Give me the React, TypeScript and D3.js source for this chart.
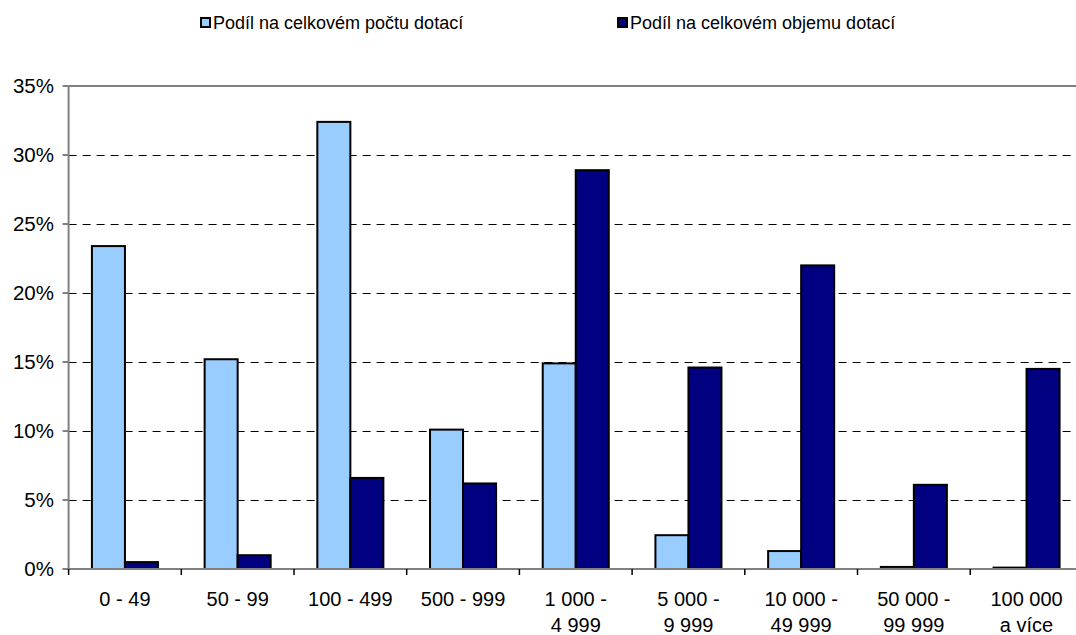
import React from "react";
import * as d3 from "d3";

const categories = ["0 - 49", "50 - 99", "100 - 499", "500 - 999", "1 000 -\n4 999", "5 000 -\n9 999", "10 000 -\n49 999", "50 000 -\n99 999", "100 000\na více"];
const countShare = [0.234, 0.152, 0.324, 0.101, 0.149, 0.0245, 0.013, 0.0015, 0.001];
const volumeShare = [0.005, 0.01, 0.066, 0.062, 0.289, 0.146, 0.22, 0.061, 0.145];
const seriesNames = ["Podíl na celkovém počtu dotací", "Podíl na celkovém objemu dotací"];
const seriesColors = ["#99CCFF", "#000080"];
const yTicks = [0, 0.05, 0.1, 0.15, 0.2, 0.25, 0.3, 0.35];

const W = 1076;
const H = 635;
const left = 68.6;
const right = left + 9 * 112.7;
const top = 86;
const bottom = 569;
const font = "'Liberation Sans', Arial, sans-serif";

export default function App() {
  const x = d3.scaleBand<string>().domain(categories).range([left, right]).paddingInner(0.414).paddingOuter(0.207);
  const xs = d3.scaleBand<number>().domain([0, 1]).range([0, x.bandwidth()]);
  const y = d3.scaleLinear().domain([0, 0.35]).range([bottom, top]);
  const step = x.step();
  const series = [countShare, volumeShare];

  return (
    <div style={{ position: "fixed", left: 0, top: 0 }}>
      <svg width={W} height={H} style={{ display: "block", background: "#fff" }} fontFamily={font}>
        {/* gridlines */}
        {yTicks.filter((t) => t > 0 && t < 0.35).map((t) => (
          <line key={t} x1={left} x2={right} y1={Math.round(y(t)) + 0.5} y2={Math.round(y(t)) + 0.5} stroke="#000" strokeWidth={1} strokeDasharray="8,6" />
        ))}
        {/* top border */}
        <line x1={left} x2={right} y1={y(0.35)} y2={y(0.35)} stroke="#808080" strokeWidth={2} />
        {/* bars */}
        {series.map((vals, si) =>
          vals.map((v, i) => {
            const bx = (x(categories[i]) as number) + (xs(si) as number);
            return (
              <rect key={si + "-" + i} x={bx} y={y(v)} width={xs.bandwidth()} height={bottom - y(v)} fill={seriesColors[si]} stroke="#000" strokeWidth={2} />
            );
          })
        )}
        {/* axes */}
        <line x1={left} x2={left} y1={top} y2={bottom} stroke="#808080" strokeWidth={2} />
        <line x1={left - 6} x2={right} y1={bottom} y2={bottom} stroke="#808080" strokeWidth={2} />
        {yTicks.map((t) => (
          <g key={"yt" + t}>
            <line x1={left - 6} x2={left} y1={y(t)} y2={y(t)} stroke="#808080" strokeWidth={2} />
            <text x={54} y={y(t)} dy="0.35em" textAnchor="end" fontSize={20.5} fill="#000">
              {d3.format(".0%")(t)}
            </text>
          </g>
        ))}
        {d3.range(categories.length + 1).map((i) => (
          <line key={"xt" + i} x1={left + i * step} x2={left + i * step} y1={bottom} y2={bottom + 6} stroke="#000" strokeWidth={1.5} />
        ))}
        {categories.map((c) => {
          const cx = (x(c) as number) + x.bandwidth() / 2;
          return (
            <text key={c} x={cx} y={606} textAnchor="middle" fontSize={20} fill="#000">
              {c.split("\n").map((ln, k) => (
                <tspan key={k} x={cx} dy={k === 0 ? 0 : 26}>{ln}</tspan>
              ))}
            </text>
          );
        })}
        {/* legend */}
        {seriesNames.map((n, i) => {
          const lx = i === 0 ? 201 : 618;
          return (
            <g key={n}>
              <rect x={lx} y={18} width={9} height={9} fill={seriesColors[i]} stroke="#000" strokeWidth={2} />
              <text x={lx + 12} y={29} fontSize={18} fill="#000">{n}</text>
            </g>
          );
        })}
      </svg>
    </div>
  );
}
